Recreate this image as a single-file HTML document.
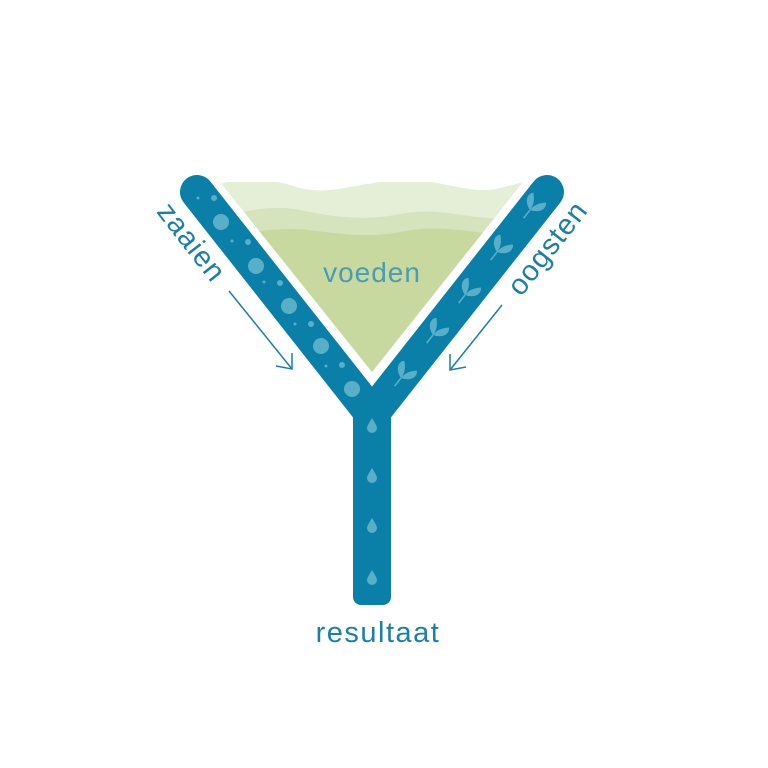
<!DOCTYPE html>
<html><head><style>html,body{margin:0;padding:0;background:#fff}svg{display:block}</style></head>
<body>
<svg width="768" height="768" viewBox="0 0 768 768" xmlns="http://www.w3.org/2000/svg">
<defs>
<clipPath id="tri"><polygon points="220,182 523,182 372,372"/></clipPath>
</defs>
<g clip-path="url(#tri)">
<path d="M200,190 C240,175 270,178 300,188 C330,196 360,182 400,180 C440,178 470,196 500,188 C520,183 530,180 540,178 L540,400 L200,400Z" fill="#e5eed7"/>
<path d="M200,222 C240,212 270,204 300,210 C330,216 360,222 400,214 C440,206 470,220 500,218 L540,215 L540,400 L200,400Z" fill="#d6e4bd"/>
<path d="M200,240 C240,235 270,226 310,230 C340,234 370,238 400,232 C440,224 470,232 500,235 L540,240 L540,400 L200,400Z" fill="#c8d99f"/>
</g>
<polyline points="197,192 372,414 547,192" fill="none" stroke="#0a7fa8" stroke-width="34" stroke-linecap="round" stroke-linejoin="miter"/>
<rect x="353" y="400" width="38" height="205" rx="8" fill="#0a7fa8"/>
<g fill="#5aafc8">
<circle cx="221" cy="222" r="8"/><circle cx="256" cy="266" r="8"/><circle cx="289" cy="306" r="8"/><circle cx="321" cy="346" r="8"/><circle cx="352" cy="389" r="8"/>
<circle cx="214" cy="198" r="3"/><circle cx="248" cy="242" r="3"/><circle cx="280" cy="283" r="3"/><circle cx="311" cy="324" r="3"/><circle cx="342" cy="365" r="3"/>
<circle cx="198" cy="198" r="1.5"/><circle cx="232" cy="241" r="1.5"/><circle cx="264" cy="282" r="1.5"/><circle cx="295" cy="324" r="1.5"/><circle cx="326" cy="366" r="1.5"/>
</g>
<g fill="#5aafc8">
<g transform="translate(372,425)"><path d="M0,-7 C3,-2 5,1 5,3 A5,5 0 0 1 -5,3 C-5,1 -3,-2 0,-7Z"/></g>
<g transform="translate(372,475)"><path d="M0,-7 C3,-2 5,1 5,3 A5,5 0 0 1 -5,3 C-5,1 -3,-2 0,-7Z"/></g>
<g transform="translate(372,525)"><path d="M0,-7 C3,-2 5,1 5,3 A5,5 0 0 1 -5,3 C-5,1 -3,-2 0,-7Z"/></g>
<g transform="translate(372,577)"><path d="M0,-7 C3,-2 5,1 5,3 A5,5 0 0 1 -5,3 C-5,1 -3,-2 0,-7Z"/></g>
</g>
<g fill="#5aafc8" stroke="#5aafc8">
<g transform="translate(530,210) rotate(38) scale(1.3)"><path d="M0,0 C-9,-3 -9,-10 -6,-12 C-3,-9 0,-6 0,0 C0,-6 3,-9 6,-12 C9,-10 9,-3 0,0Z" stroke="none"/><line x1="0" y1="0" x2="0" y2="8" stroke-width="1.2"/></g>
<g transform="translate(497,252) rotate(38) scale(1.3)"><path d="M0,0 C-9,-3 -9,-10 -6,-12 C-3,-9 0,-6 0,0 C0,-6 3,-9 6,-12 C9,-10 9,-3 0,0Z" stroke="none"/><line x1="0" y1="0" x2="0" y2="8" stroke-width="1.2"/></g>
<g transform="translate(465,295) rotate(38) scale(1.3)"><path d="M0,0 C-9,-3 -9,-10 -6,-12 C-3,-9 0,-6 0,0 C0,-6 3,-9 6,-12 C9,-10 9,-3 0,0Z" stroke="none"/><line x1="0" y1="0" x2="0" y2="8" stroke-width="1.2"/></g>
<g transform="translate(433,335) rotate(38) scale(1.3)"><path d="M0,0 C-9,-3 -9,-10 -6,-12 C-3,-9 0,-6 0,0 C0,-6 3,-9 6,-12 C9,-10 9,-3 0,0Z" stroke="none"/><line x1="0" y1="0" x2="0" y2="8" stroke-width="1.2"/></g>
<g transform="translate(401,378) rotate(38) scale(1.3)"><path d="M0,0 C-9,-3 -9,-10 -6,-12 C-3,-9 0,-6 0,0 C0,-6 3,-9 6,-12 C9,-10 9,-3 0,0Z" stroke="none"/><line x1="0" y1="0" x2="0" y2="8" stroke-width="1.2"/></g>
</g>
<g stroke="#1a7fa8" stroke-width="1.5" fill="none">
<line x1="229" y1="291" x2="292" y2="369"/><polyline points="276,366 292,369 292,353"/>
<line x1="502" y1="305" x2="450" y2="370"/><polyline points="450,354 450,370 466,367"/>
</g>
<g font-family="Liberation Sans, sans-serif" fill="#1a7fa8">
<text x="372" y="282" font-size="28" text-anchor="middle" fill="#4a9cb0" letter-spacing="1">voeden</text>
<text x="378" y="642" font-size="29" text-anchor="middle" letter-spacing="1.5">resultaat</text>
<text transform="translate(184,248) rotate(52)" font-size="29" text-anchor="middle" letter-spacing="1">zaaien</text>
<text transform="translate(555,254) rotate(-52)" font-size="29" text-anchor="middle" letter-spacing="1">oogsten</text>
</g>
</svg>
</body></html>
